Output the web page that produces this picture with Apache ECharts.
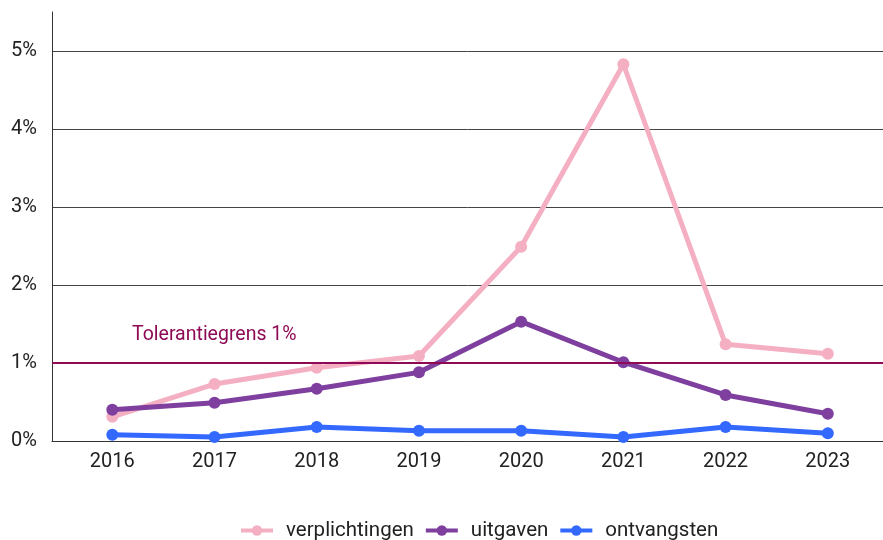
<!DOCTYPE html>
<html>
<head>
<meta charset="utf-8">
<script src="https://cdn.jsdelivr.net/npm/echarts@6/dist/echarts.min.js"></script>
<style>
  html, body { margin: 0; padding: 0; background: #fff; }
  #chart { width: 883px; height: 540px; }
</style>
</head>
<body>
<div id="chart"></div>
<script>
// Years on the horizontal axis
const years = [2016, 2017, 2018, 2019, 2020, 2021, 2022, 2023];

// Error rates in percent
const verplichtingen = [0.31, 0.73, 0.94, 1.09, 2.49, 4.83, 1.24, 1.12];
const uitgaven = [0.40, 0.49, 0.67, 0.88, 1.53, 1.01, 0.59, 0.35];
const ontvangsten = [0.08, 0.05, 0.18, 0.13, 0.13, 0.05, 0.18, 0.10];

// Y-axis tick labels and the tolerance threshold
const yTicks = [0, 1, 2, 3, 4, 5];
const tolerance = 1;
const toleranceLabel = 'Tolerantiegrens 1%';

const font = 'Roboto, "Noto Sans", sans-serif';

function pairs(values) {
  return values.map((v, i) => [years[i], v]);
}

function lineSeries(name, values, color) {
  return {
    name: name,
    type: 'line',
    data: pairs(values),
    symbol: 'circle',
    symbolSize: 12,
    lineStyle: { width: 5, color: color },
    itemStyle: { color: color },
    emphasis: { disabled: true }
  };
}

const chart = echarts.init(document.getElementById('chart'), null, { renderer: 'canvas' });

const series = [
  lineSeries('verplichtingen', verplichtingen, '#F4B0C2'),
  lineSeries('uitgaven', uitgaven, '#7E3F9F'),
  lineSeries('ontvangsten', ontvangsten, '#3369FF')
];

// Tolerance threshold drawn behind the data lines
series.unshift({
  name: 'tolerantie',
  type: 'line',
  data: [],
  silent: true,
  markLine: {
    silent: true,
    symbol: 'none',
    lineStyle: { color: '#8E0A55', width: 2, type: 'solid' },
    label: {
      show: true,
      position: 'insideStartTop',
      formatter: toleranceLabel,
      color: '#8E0A55',
      fontFamily: font,
      fontSize: 19.5,
      distance: [80, 18]
    },
    data: [{ yAxis: tolerance }]
  }
});

chart.setOption({
  animation: false,
  backgroundColor: '#ffffff',
  grid: { left: 52, right: 0, top: 12, bottom: 99, containLabel: false },
  legend: {
    bottom: -6,
    left: 234,
    data: ['verplichtingen', 'uitgaven', 'ontvangsten'],
    itemWidth: 32,
    itemHeight: 13,
    itemGap: 10,
    lineStyle: { width: 4 },
    textStyle: { fontFamily: font, fontSize: 20.5, color: '#222', padding: [0, 0, 0, 8] }
  },
  xAxis: {
    type: 'value',
    min: 2015.41,
    max: 2023.54,
    axisLine: { show: true, lineStyle: { color: '#333', width: 1 } },
    axisTick: { show: false },
    splitLine: { show: false },
    axisLabel: {
      customValues: years,
      formatter: v => String(v),
      fontFamily: font,
      fontSize: 20,
      color: '#222',
      margin: 11
    }
  },
  yAxis: {
    type: 'value',
    min: 0,
    max: 5.5,
    interval: 1,
    axisLine: { show: true, lineStyle: { color: '#333', width: 1 } },
    axisTick: { show: false },
    splitLine: { show: true, showMaxLine: false, lineStyle: { color: '#444', width: 1 } },
    axisLabel: {
      customValues: yTicks,
      formatter: v => v + '%',
      fontFamily: font,
      fontSize: 20,
      color: '#222',
      margin: 15
    }
  },
  series: series
});
</script>
</body>
</html>
